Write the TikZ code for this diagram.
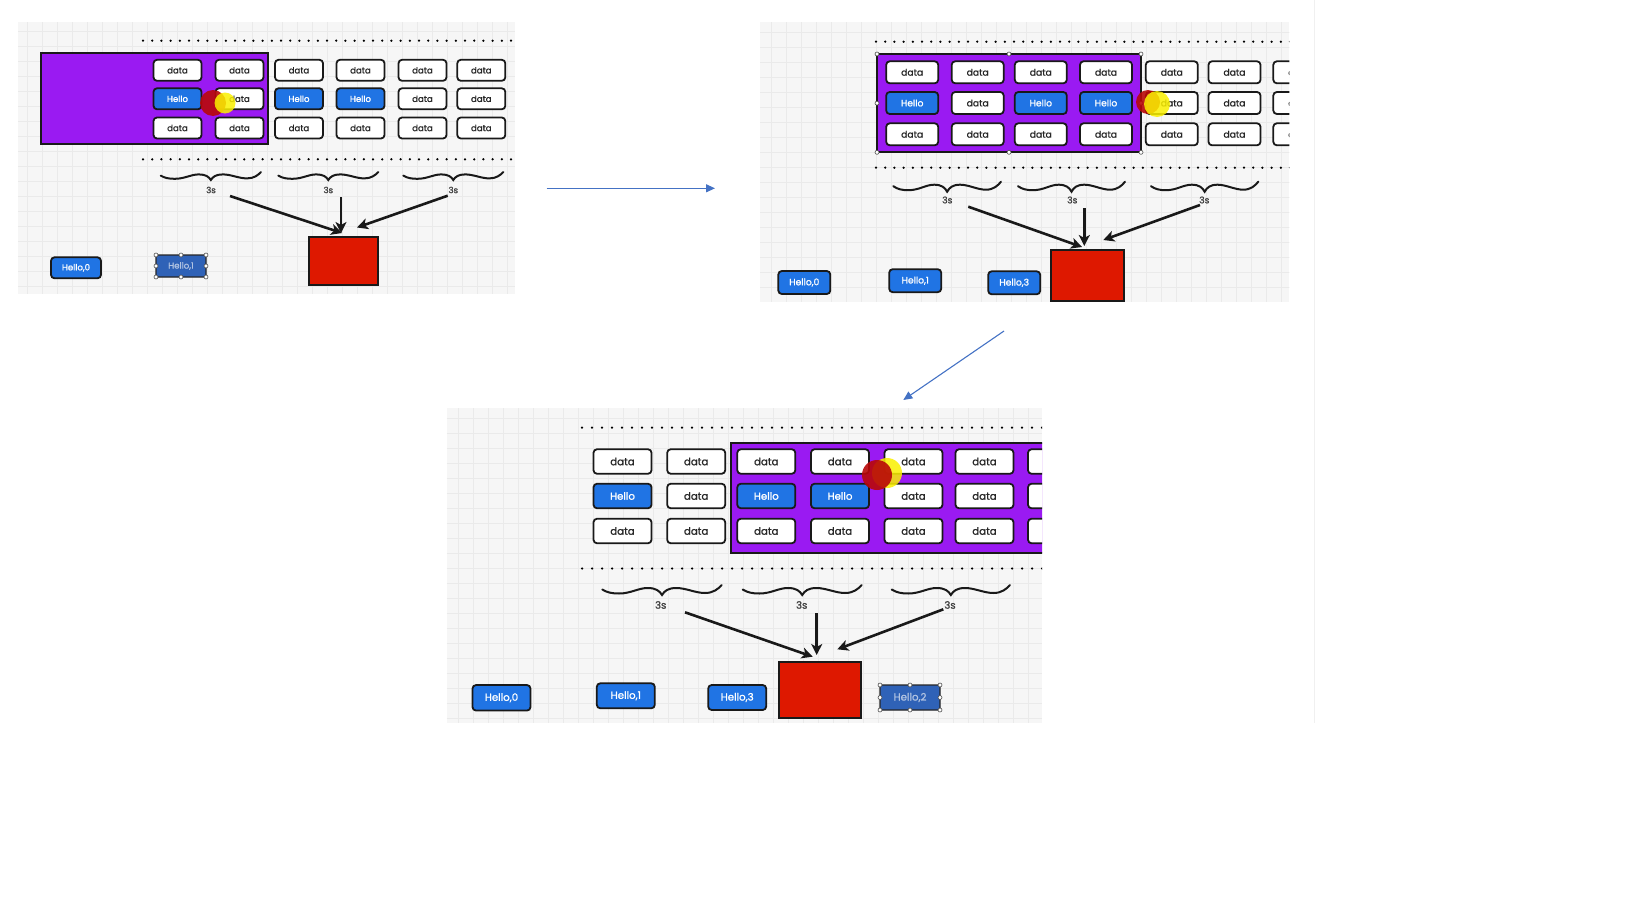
\documentclass[tikz,border=0pt]{standalone}
\usepackage{fontspec}
\setmainfont{Poppins}[FakeBold=1.2]
\usetikzlibrary{arrows.meta}
\definecolor{hblue}{RGB}{32,116,228}
\definecolor{sblue}{RGB}{47,98,183}
\definecolor{stext}{RGB}{178,196,226}
\definecolor{vio}{RGB}{154,26,242}
\definecolor{rbox}{RGB}{222,24,0}
\definecolor{lblue}{RGB}{68,114,196}
\definecolor{panelbg}{RGB}{246,246,246}
\definecolor{gridc}{RGB}{234,234,234}
\definecolor{hlr}{RGB}{185,8,8}
\definecolor{hly}{RGB}{250,240,0}
\newcommand\Tdata{data}
\newcommand\Thello{Hello}
\tikzset{
  every node/.style={outer sep=0pt, inner sep=0pt},
  pbg/.style={fill=panelbg},
  gridline/.style={draw=gridc, line width=0.7pt},
  sepline/.style={draw=black!6, line width=0.8pt},
  dotline/.style={line width=2.5pt, line cap=round, dash pattern=on 0pt off 9.2pt},
  box/.style={draw=black!90, line width=1.8pt, rounded corners=3.5pt, fill=white, text=black!85},
  kdata/.style={},
  khello/.style={fill=hblue, text=white},
  selbox/.style={draw=black!85, line width=1.1pt, fill=sblue, text=stext, rounded corners=1pt},
  redbox/.style={draw=black!90, line width=2pt, fill=rbox},
  purp/.style={draw=black!90, line width=2pt, fill=vio},
  bracel/.style={line width=2pt, line cap=round, draw=black!90},
  slabel/.style={text=black!75},
  bigarrow/.style={line width=2.6pt, draw=black!90, -{Stealth[length=11pt,width=11pt,inset=3pt]}},
  flow/.style={line width=1.1pt, draw=lblue, -{Triangle[length=9pt,width=8pt]}},
  handle/.style={circle, draw=black!70, fill=white, minimum size=4pt, line width=0.6pt},
  hlred/.style={fill=hlr, opacity=0.9},
  hlyel/.style={fill=hly, opacity=0.85},
  fA/.style={font=\fontsize{8.6}{10}\selectfont},
  fB/.style={font=\fontsize{9.2}{11}\selectfont},
  fC/.style={font=\fontsize{10.2}{12}\selectfont},
  bA/.style={box, fA, minimum width=48pt, minimum height=21pt},
  bB/.style={box, fB, minimum width=52pt, minimum height=22pt},
  bC/.style={box, fC, minimum width=58pt, minimum height=24.5pt},
  brc/.pic={\draw[bracel] (0,0.45) .. controls (0.04,0.75) and (0.08,0.85) .. (0.14,0.85)
     .. controls (0.24,0.85) and (0.3,0.3) .. (0.38,0.3)
     .. controls (0.45,0.3) and (0.48,0.6) .. (0.5,1)
     .. controls (0.52,0.6) and (0.55,0.3) .. (0.62,0.3)
     .. controls (0.7,0.3) and (0.78,0.8) .. (0.86,0.8)
     .. controls (0.93,0.8) and (0.97,0.4) .. (1,0);}
}
\begin{document}
\begin{tikzpicture}[x=1pt,y=-1pt]
\useasboundingbox (0,0) rectangle (1643,910);
\draw[sepline] (1314,0) -- (1314,723);

%================ Panel 1 ================
\fill[pbg] (18,22) rectangle (515,294);
\begin{scope}
\clip (18,22) rectangle (515,294);
\foreach \gx in {27,42,...,507} \draw[gridline] (\gx,22) -- (\gx,294);
\foreach \gy in {31,46,...,291} \draw[gridline] (18,\gy) -- (515,\gy);
\draw[dotline] (143,40.7) -- (516,40.7);
\draw[dotline] (143,159.3) -- (516,159.3);
\node[purp, minimum width=227pt, minimum height=91pt] (pu1) at (154.2,98.8) {};
\foreach \x [count=\c] in {177.5,239.5,299,360.5,422.5,481.3}{
  \node[bA] (A-\c-1) at (\x,70.3) {data};
  \node[bA] (A-\c-3) at (\x,128) {data};
}
\foreach \x/\t [count=\c] in {177.5/hello,239.5/data,299/hello,360.5/hello,422.5/data,481.3/data}
  \node[bA,k\t] (A-\c-2) at (\x,98.8) {\csname T\t\endcsname};
\fill[hlred] (213,103) circle[radius=13pt];
\fill[hlyel] (225,103) circle[radius=10.5pt];
\pic[xscale=100.3, yscale=8] at (160.7,172) {brc};
\pic[xscale=100, yscale=8] at (278.3,172) {brc};
\pic[xscale=100, yscale=8] at (403.3,172) {brc};
\node[slabel, fA] (A-l1) at (211,190) {3s};
\node[slabel, fA] (A-l2) at (328.3,190) {3s};
\node[slabel, fA] (A-l3) at (453.3,190) {3s};
\node[redbox, minimum width=69pt, minimum height=48pt] (A-red) at (343,261) {};
\coordinate (A-s1) at (230,196);   \coordinate (A-e1) at (342,233);
\coordinate (A-s2) at (341,197);   \coordinate (A-e2) at (341,233);
\coordinate (A-s3) at (447.7,195.7); \coordinate (A-e3) at (357,227.5);
\draw[bigarrow] (A-s1) -- (A-e1);
\draw[bigarrow] (A-s2) -- (A-e2);
\draw[bigarrow] (A-s3) -- (A-e3);
\node[box, khello, fA, minimum width=50pt, minimum height=21pt] (A-h0) at (76,267.8) {Hello,0};
\node[selbox, fA, minimum width=50pt, minimum height=22pt] (A-sel) at (181,266) {Hello,1};
\foreach \a [count=\i] in {north west,north,north east,east,south east,south,south west,west}
  \node[handle] (A-hd\i) at (A-sel.\a) {};
\end{scope}

%================ Panel 2 ================
\fill[pbg] (760,22) rectangle (1289.3,302);
\begin{scope}
\clip (760,22) rectangle (1289.3,302);
\foreach \gx in {771,786,...,1287} \draw[gridline] (\gx,22) -- (\gx,302);
\foreach \gy in {32,47,...,300} \draw[gridline] (760,\gy) -- (1290,\gy);
\draw[dotline] (876,41.7) -- (1292,41.7);
\draw[dotline] (876,167.7) -- (1292,167.7);
\node[purp, minimum width=264pt, minimum height=98.3pt] (pu2) at (1009,103.15) {};
\foreach \x [count=\c] in {912.2,977.7,1040.8,1106,1171.8,1234.5,1299.3}{
  \node[bB] (B-\c-1) at (\x,72.3) {data};
  \node[bB] (B-\c-3) at (\x,134.3) {data};
}
\foreach \x/\t [count=\c] in {912.2/hello,977.7/data,1040.8/hello,1106/hello,1171.8/data,1234.5/data,1299.3/data}
  \node[bB,k\t] (B-\c-2) at (\x,103) {\csname T\t\endcsname};
\foreach \a [count=\i] in {north west,north,north east,east,south east,south,south west,west}
  \node[handle] (B-hd\i) at (pu2.\a) {};
\fill[hlred] (1148,102) circle[radius=12pt];
\fill[hlyel] (1157,104) circle[radius=13pt];
\pic[xscale=107.7, yscale=10] at (893.3,181.7) {brc};
\pic[xscale=107, yscale=10] at (1018,181.7) {brc};
\pic[xscale=107.3, yscale=10] at (1151,181.7) {brc};
\node[slabel, fB] (B-l1) at (947.3,200) {3s};
\node[slabel, fB] (B-l2) at (1072.3,200) {3s};
\node[slabel, fB] (B-l3) at (1204.3,200) {3s};
\node[redbox, minimum width=73pt, minimum height=51pt] (B-red) at (1087.7,275.5) {};
\coordinate (B-s1) at (968.3,206.7);  \coordinate (B-e1) at (1082,247);
\coordinate (B-s2) at (1084.3,208.3); \coordinate (B-e2) at (1084.3,246);
\coordinate (B-s3) at (1200,205);     \coordinate (B-e3) at (1103.3,240);
\draw[bigarrow] (B-s1) -- (B-e1);
\draw[bigarrow] (B-s2) -- (B-e2);
\draw[bigarrow] (B-s3) -- (B-e3);
\node[box, khello, fB, minimum width=52pt, minimum height=23pt] (B-h0) at (804.3,282.5) {Hello,0};
\node[box, khello, fB, minimum width=52pt, minimum height=23pt] (B-h1) at (915.2,280.7) {Hello,1};
\node[box, khello, fB, minimum width=52pt, minimum height=23pt] (B-h3) at (1014.2,282.8) {Hello,3};
\end{scope}

%================ Panel 3 ================
\fill[pbg] (446.7,408) rectangle (1042,723);
\begin{scope}
\clip (446.7,408) rectangle (1042,723);
\foreach \gx in {458,473,...,1040} \draw[gridline] (\gx,408) -- (\gx,723);
\foreach \gy in {418,433,...,721} \draw[gridline] (446.7,\gy) -- (1042,\gy);
\draw[dotline, dash pattern=on 0pt off 10pt] (582,427.7) -- (1045,427.7);
\draw[dotline, dash pattern=on 0pt off 10pt] (582,568.5) -- (1045,568.5);
\node[purp, minimum width=344pt, minimum height=109.2pt] (pu3) at (903,497.9) {};
\foreach \x [count=\c] in {622.5,696.2,766.3,840,913.5,984.5,1057}{
  \node[bC] (C-\c-1) at (\x,461.5) {data};
  \node[bC] (C-\c-3) at (\x,531) {data};
}
\foreach \x/\t [count=\c] in {622.5/hello,696.2/data,766.3/hello,840/hello,913.5/data,984.5/data,1057/data}
  \node[bC,k\t] (C-\c-2) at (\x,496) {\csname T\t\endcsname};
\fill[hlyel] (887,473) circle[radius=15pt];
\fill[hlred] (877,475) circle[radius=15pt];
\pic[xscale=119.4, yscale=10] at (602.3,585) {brc};
\pic[xscale=119, yscale=10] at (742.7,585) {brc};
\pic[xscale=118.3, yscale=10] at (891.7,585) {brc};
\node[slabel, fC] (C-l1) at (660.7,605) {3s};
\node[slabel, fC] (C-l2) at (801.7,605) {3s};
\node[slabel, fC] (C-l3) at (950,605) {3s};
\node[redbox, minimum width=82pt, minimum height=56pt] (C-red) at (819.5,689.5) {};
\coordinate (C-s1) at (685,612.3);   \coordinate (C-e1) at (812.7,656.7);
\coordinate (C-s2) at (816.7,613.3); \coordinate (C-e2) at (816.7,655);
\coordinate (C-s3) at (943.3,609.3); \coordinate (C-e3) at (837.3,649.3);
\draw[bigarrow] (C-s1) -- (C-e1);
\draw[bigarrow] (C-s2) -- (C-e2);
\draw[bigarrow] (C-s3) -- (C-e3);
\node[box, khello, fC, minimum width=58pt, minimum height=25.5pt] (C-h0) at (501.5,697.8) {Hello,0};
\node[box, khello, fC, minimum width=58pt, minimum height=25pt] (C-h1) at (625.8,695.8) {Hello,1};
\node[box, khello, fC, minimum width=58pt, minimum height=25pt] (C-h3) at (737.2,697.5) {Hello,3};
\node[selbox, fC, minimum width=60pt, minimum height=25pt] (C-sel) at (910,697.5) {Hello,2};
\foreach \a [count=\i] in {north west,north,north east,east,south east,south,south west,west}
  \node[handle] (C-hd\i) at (C-sel.\a) {};
\end{scope}

%================ flow arrows ================
\coordinate (f1s) at (546.7,188.3); \coordinate (f1e) at (715,188.3);
\coordinate (f2s) at (1004,331);    \coordinate (f2e) at (903.3,400);
\draw[flow] (f1s) -- (f1e);
\draw[flow] (f2s) -- (f2e);
\end{tikzpicture}
\end{document}
